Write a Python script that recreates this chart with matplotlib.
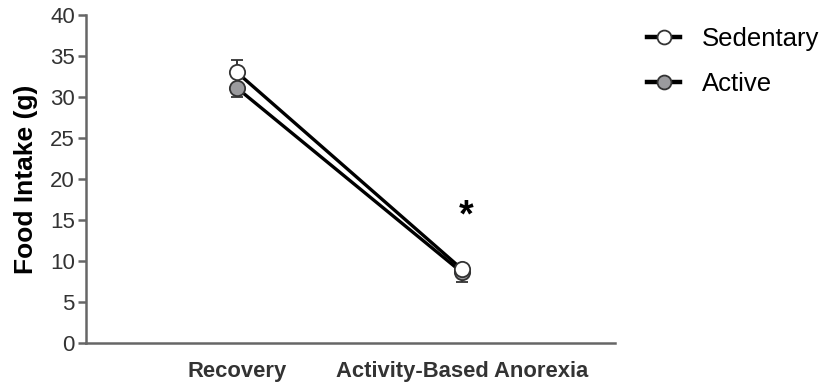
import numpy as np
import matplotlib.pyplot as plt
from matplotlib.lines import Line2D

plt.rcParams['font.family'] = ['Liberation Sans', 'DejaVu Sans']

phases = ["Recovery", "Activity-Based Anorexia"]
groups = ["Sedentary", "Active"]
sedentary_mean = [33.0, 9.0]
sedentary_sem = [1.5, 0.4]
active_mean = [31.1, 8.6]
active_sem = [1.05, 1.2]
sig_label = "*"
sig_y = 15.4

x = np.arange(len(phases))
grey = "#666666"
dark = "#333333"
fills = {"Sedentary": "white", "Active": "#9b9b9e"}

fig = plt.figure(figsize=(8.24, 3.87), dpi=100)
ax = fig.add_axes([86 / 824, 1 - 343 / 387, (615 - 86) / 824, (343 - 15) / 387])

# active: error bars point down, sedentary: error bars point up
ax.errorbar(x, active_mean, yerr=[active_sem, np.zeros(2)], color="black", lw=2.4,
            ecolor=dark, elinewidth=1.4, capsize=4, capthick=1.4,
            marker="o", ms=11, mfc=fills["Active"], mec=dark, mew=1.3, zorder=3)
ax.errorbar(x, sedentary_mean, yerr=[np.zeros(2), sedentary_sem], color="black", lw=2.4,
            ecolor=dark, elinewidth=1.4, capsize=4, capthick=1.4,
            marker="o", ms=11, mfc=fills["Sedentary"], mec=dark, mew=1.3, zorder=4)

ax.text(x[1] + 0.02, sig_y, sig_label, ha="center", va="center",
        fontsize=27, fontweight="bold", color="black")

ax.set_xlim(-0.671, 1.68)
ax.set_ylim(0, 40)
ax.set_yticks(np.arange(0, 41, 5))
ax.set_xticks(x)
ax.set_xticklabels(phases, fontsize=15.8, fontweight="bold", color=dark)
ax.tick_params(axis="x", length=0, pad=13)
ax.tick_params(axis="y", length=6, width=1.8, color=grey, labelsize=16,
               labelcolor=dark, pad=2)
for side in ["top", "right"]:
    ax.spines[side].set_visible(False)
for side in ["left", "bottom"]:
    ax.spines[side].set_color(grey)
    ax.spines[side].set_linewidth(1.8)
ax.set_ylabel("Food Intake (g)", fontsize=19, fontweight="bold", labelpad=9)

handles = [Line2D([], [], color="black", lw=3.2, marker="o", ms=10,
                  mfc=fills[g], mec=dark, mew=1.3) for g in groups]
fig.legend(handles, groups, loc="upper left",
           bbox_to_anchor=(647 / 824, 0.93), frameon=False,
           fontsize=18.5, handlelength=1.3, handletextpad=0.85,
           labelspacing=0.82, borderpad=0, borderaxespad=0)

fig.savefig("out.png", dpi=100)
